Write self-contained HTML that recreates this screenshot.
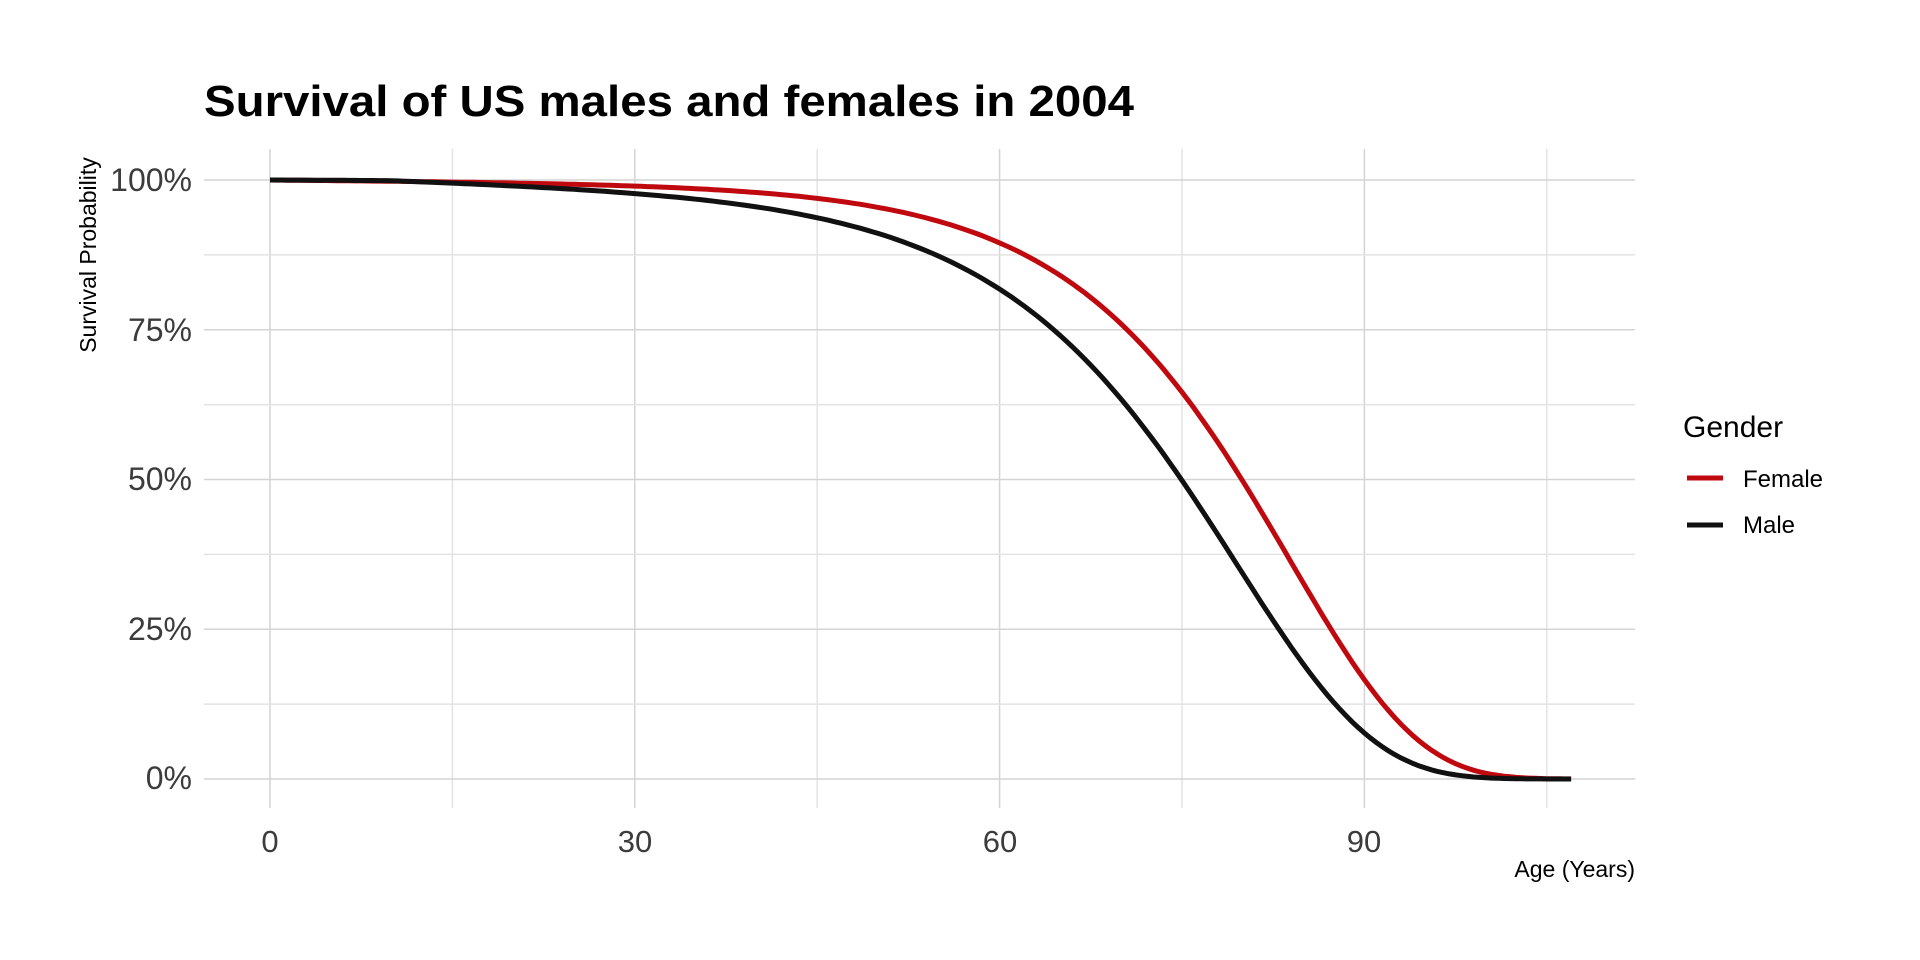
<!DOCTYPE html>
<html><head><meta charset="utf-8"><style>
html,body{margin:0;padding:0;background:#fff;}
svg{display:block;font-family:"Liberation Sans",sans-serif;}
</style></head><body>
<svg id="s" width="1920" height="960" viewBox="0 0 1920 960" xmlns="http://www.w3.org/2000/svg">
<rect width="1920" height="960" fill="#fff"/>
<text x="204" y="116" font-size="44" font-weight="bold" fill="#000" textLength="930" lengthAdjust="spacingAndGlyphs">Survival of US males and females in 2004</text>
<g id="grid" stroke="#d9d9d9" stroke-width="1.5"></g>
<g font-size="32" fill="#3c3c3c" text-anchor="end">
<text x="192" y="191">100%</text>
<text x="192" y="341">75%</text>
<text x="192" y="490">50%</text>
<text x="192" y="640">25%</text>
<text x="192" y="789">0%</text>
</g>
<g font-size="31" fill="#3c3c3c" text-anchor="middle">
<text x="270" y="852">0</text>
<text x="635" y="852">30</text>
<text x="1000" y="852">60</text>
<text x="1364" y="852">90</text>
</g>
<text transform="translate(96,255) rotate(-90)" font-size="23" text-anchor="middle" fill="#000">Survival Probability</text>
<text x="1635" y="877" font-size="23" text-anchor="end" fill="#000">Age (Years)</text>
<path id="f" fill="none" stroke="#c0090f" stroke-width="5"/>
<path id="m" fill="none" stroke="#111" stroke-width="5"/>
<text x="1683" y="437" font-size="30" fill="#000">Gender</text>
<line x1="1687" y1="478" x2="1723" y2="478" stroke="#c0090f" stroke-width="5"/>
<text x="1743" y="487" font-size="24" fill="#000">Female</text>
<line x1="1687" y1="525" x2="1723" y2="525" stroke="#111" stroke-width="5"/>
<text x="1743" y="533" font-size="24" fill="#000">Male</text>
</svg>
<script>
var X=function(a){return 270+a*12.16;},Y=function(v){return 779-599*v;};
var g=document.getElementById('grid'),h='';
for(var a=0;a<=105;a+=15){var c=a%30==0?'#d4d4d4':'#e3e3e3';h+='<line x1="'+X(a)+'" y1="149" x2="'+X(a)+'" y2="808" stroke="'+c+'"/>';}
for(var v=0;v<=1.0001;v+=0.125){var c=(Math.round(v*8)%2==0)?'#d4d4d4':'#e3e3e3';h+='<line x1="204" y1="'+Y(v)+'" x2="1635" y2="'+Y(v)+'" stroke="'+c+'"/>';}
g.innerHTML=h;
function S(a,A,Bc,c,a0){return Math.exp(-A*Math.max(0,a-a0)-Bc*(Math.exp(c*a)-1));}
function path(A,Bc,c,a0){var d='';for(var a=0;a<=107;a+=0.5){d+=(a==0?'M':'L')+X(a).toFixed(1)+','+Y(S(a,A,Bc,c,a0)).toFixed(1)+' ';}return d;}
document.getElementById('f').setAttribute('d',path(0.00016,3.3e-4,0.0955,0));
document.getElementById('m').setAttribute('d',path(0.0006,8.0e-4,0.0895,10));
</script>
</body></html>
